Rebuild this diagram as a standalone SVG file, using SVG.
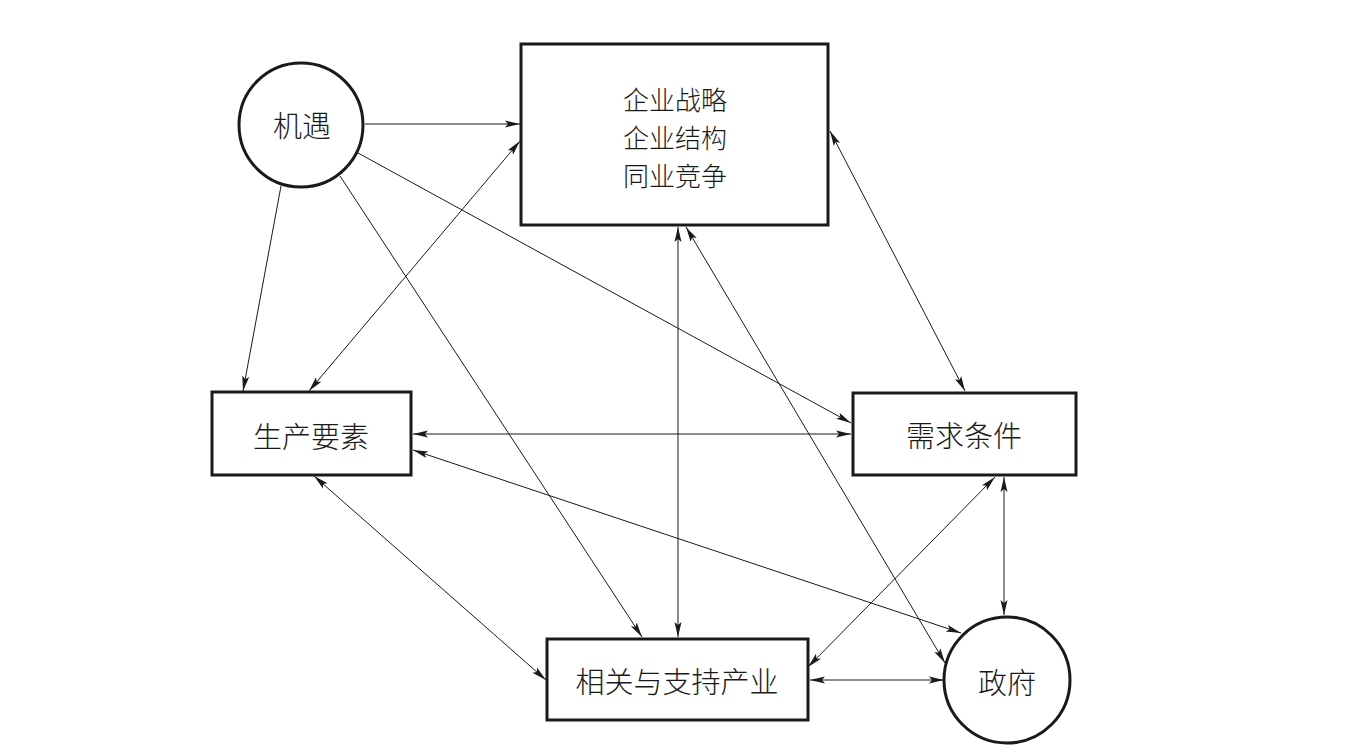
<svg xmlns="http://www.w3.org/2000/svg" width="1349" height="751" viewBox="0 0 1349 751">
<style>
.box{fill:#fff;stroke:#1a1a1a;stroke-width:3}
.lbl{font-family:"Noto Sans CJK SC","Noto Sans",sans-serif;font-size:29px;font-weight:300;fill:#1a1a1a;text-anchor:middle;dominant-baseline:central}
.ml{font-size:26px}
.c{stroke:#1a1a1a;stroke-width:1;fill:none}
.one{marker-end:url(#ah)}
.two{marker-start:url(#ahs);marker-end:url(#ah)}
</style>
<defs>
<marker id="ah" markerUnits="userSpaceOnUse" markerWidth="16" markerHeight="10" refX="15" refY="5" orient="auto">
<path d="M0,1.5 L15,5 L0,8.5 L3,5 Z" fill="#1a1a1a"/>
</marker>
<marker id="ahs" markerUnits="userSpaceOnUse" markerWidth="16" markerHeight="10" refX="1" refY="5" orient="auto">
<path d="M16,1.5 L1,5 L16,8.5 L13,5 Z" fill="#1a1a1a"/>
</marker>
</defs>
<rect width="1349" height="751" fill="#fff"/>
<g id="connectors">
<line class="c one" x1="365" y1="124" x2="520" y2="124"/>
<line class="c one" x1="281" y1="186" x2="243" y2="391"/>
<line class="c one" x1="340" y1="176" x2="642" y2="637"/>
<line class="c one" x1="358" y1="153" x2="851" y2="423"/>
<line class="c two" x1="309" y1="391" x2="520" y2="141"/>
<line class="c two" x1="830" y1="131" x2="965" y2="391"/>
<line class="c two" x1="413" y1="434" x2="851" y2="434"/>
<line class="c two" x1="413" y1="450" x2="961" y2="633"/>
<line class="c two" x1="314" y1="476" x2="546" y2="680"/>
<line class="c two" x1="678" y1="227" x2="678" y2="637"/>
<line class="c two" x1="686" y1="227" x2="945" y2="663"/>
<line class="c two" x1="995" y1="477" x2="808" y2="667"/>
<line class="c two" x1="1004" y1="477" x2="1004" y2="615"/>
<line class="c two" x1="810" y1="680" x2="944" y2="680"/>
</g>
<g id="opportunity">
<circle class="box" cx="301" cy="125" r="62"/>
<text class="lbl" x="302" y="124">机遇</text>
</g>
<g id="strategy">
<rect class="box" x="521" y="44" width="307" height="181"/>
<text class="lbl ml" x="675" y="98">企业战略</text>
<text class="lbl ml" x="675" y="136">企业结构</text>
<text class="lbl ml" x="675" y="174">同业竞争</text>
</g>
<g id="factors">
<rect class="box" x="212" y="392" width="199" height="83"/>
<text class="lbl" x="311" y="435">生产要素</text>
</g>
<g id="demand">
<rect class="box" x="853" y="393" width="223" height="82"/>
<text class="lbl" x="964" y="434">需求条件</text>
</g>
<g id="related">
<rect class="box" x="547" y="639" width="261" height="81"/>
<text class="lbl" x="677" y="680">相关与支持产业</text>
</g>
<g id="government">
<circle class="box" cx="1007" cy="680" r="63"/>
<text class="lbl" x="1007" y="681">政府</text>
</g>
</svg>
